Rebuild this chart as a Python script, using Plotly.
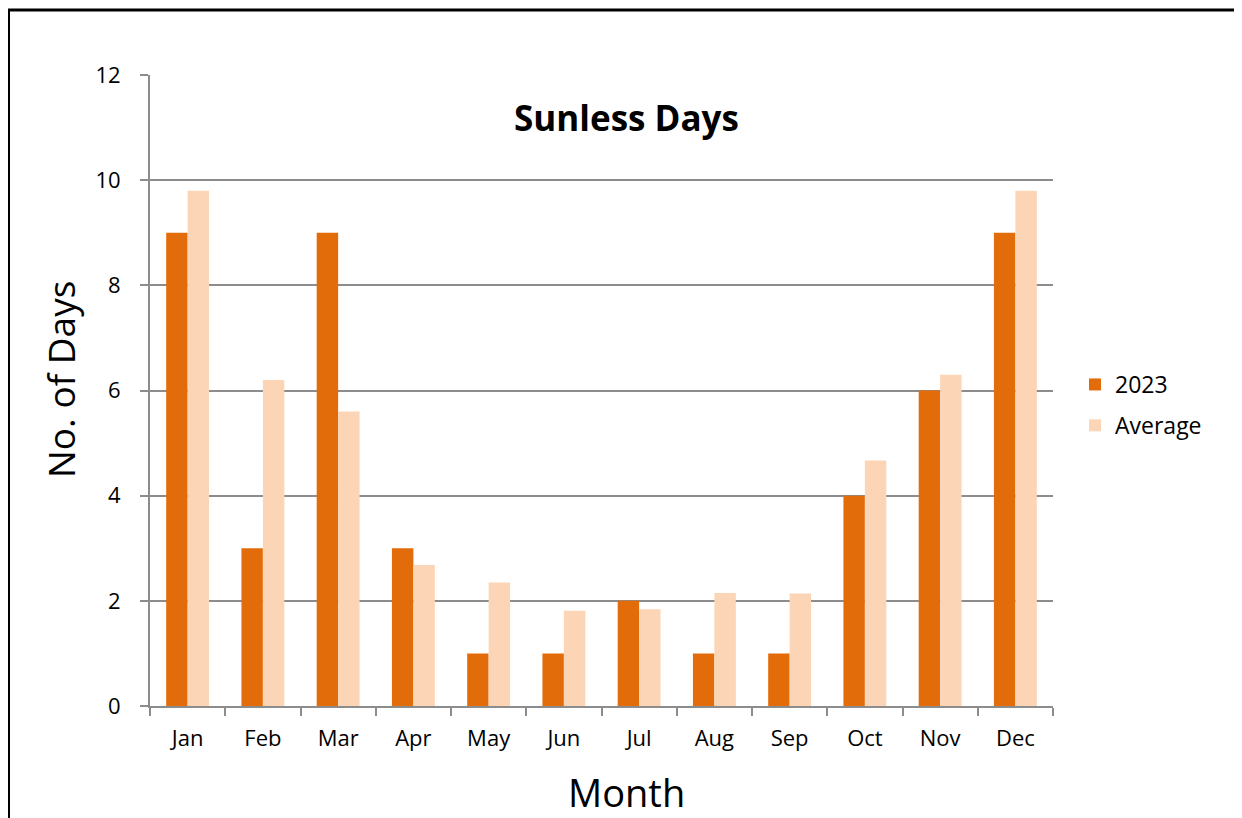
import plotly.graph_objects as go

months = ["Jan", "Feb", "Mar", "Apr", "May", "Jun", "Jul", "Aug", "Sep", "Oct", "Nov", "Dec"]
days_2023 = [9, 3, 9, 3, 1, 1, 2, 1, 1, 4, 6, 9]
days_avg = [9.8, 6.2, 5.6, 2.68, 2.35, 1.81, 1.84, 2.15, 2.14, 4.67, 6.3, 9.8]
y_ticks = [0, 2, 4, 6, 8, 10, 12]

FONT = "Open Sans"
GRID = "#8c8c8c"
OFF = 8  # page body margin

fig = go.Figure()
fig.add_trace(go.Bar(x=months, y=days_2023, name="2023", marker_color="#E36C0A",
                     marker_line_width=0, legendgroup="a"))
fig.add_trace(go.Bar(x=months, y=days_avg, name="Average", marker_color="#FBD5B5",
                     marker_line_width=0, legendgroup="b"))

W, H = 1242 - OFF, 818 - OFF
# plot area in page pixels
L, R, T, B = 150, 1053, 75, 706
pw, ph = R - L, B - T

def px(x):
    return (x - L) / pw

def py(y):
    return (B - y) / ph

fig.update_layout(
    width=W, height=H,
    margin=dict(l=L - OFF, r=W - (R - OFF), t=T - OFF, b=H - (B - OFF), pad=0),
    paper_bgcolor="white", plot_bgcolor="white",
    barmode="group", bargap=0.43, bargroupgap=0,
    font=dict(family=FONT, color="black"),
    legend=dict(x=px(1075), y=py(405), xanchor="left", yanchor="middle",
                font=dict(size=23, family=FONT), tracegroupgap=8,
                itemwidth=30, bgcolor="rgba(0,0,0,0)"),
    xaxis=dict(type="category", showline=True, linecolor=GRID, linewidth=2,
               ticks="outside", tickson="boundaries", ticklen=8, tickcolor=GRID,
               tickwidth=2, tickfont=dict(size=22, family=FONT), showgrid=False,
               ticklabelstandoff=12),
    yaxis=dict(range=[0, 12], tickvals=y_ticks, showline=True, linecolor=GRID,
               linewidth=2, ticks="outside", ticklen=8, tickcolor=GRID, tickwidth=2,
               showgrid=True, gridcolor=GRID, gridwidth=2, zeroline=False,
               tickfont=dict(size=22, family=FONT), ticklabelstandoff=15),
    annotations=[
        dict(text="<b>Sunless Days</b>", x=px(626), y=py(118), xref="paper", yref="paper",
             showarrow=False, font=dict(size=35, family=FONT), xanchor="center", yanchor="middle"),
        dict(text="No. of Days", x=px(60), y=py(380), xref="paper", yref="paper",
             showarrow=False, textangle=-90, font=dict(size=37, family=FONT),
             xanchor="center", yanchor="middle"),
        dict(text="Month", x=px(626), y=py(792), xref="paper", yref="paper",
             showarrow=False, font=dict(size=38, family=FONT),
             xanchor="center", yanchor="middle"),
    ],
    shapes=[
        dict(type="rect", xref="paper", yref="paper", x0=px(8.5), x1=px(1300),
             y0=py(900), y1=py(10), line=dict(color="black", width=3),
             fillcolor="rgba(0,0,0,0)", layer="above"),
    ],
)

fig.write_html("out.html")
